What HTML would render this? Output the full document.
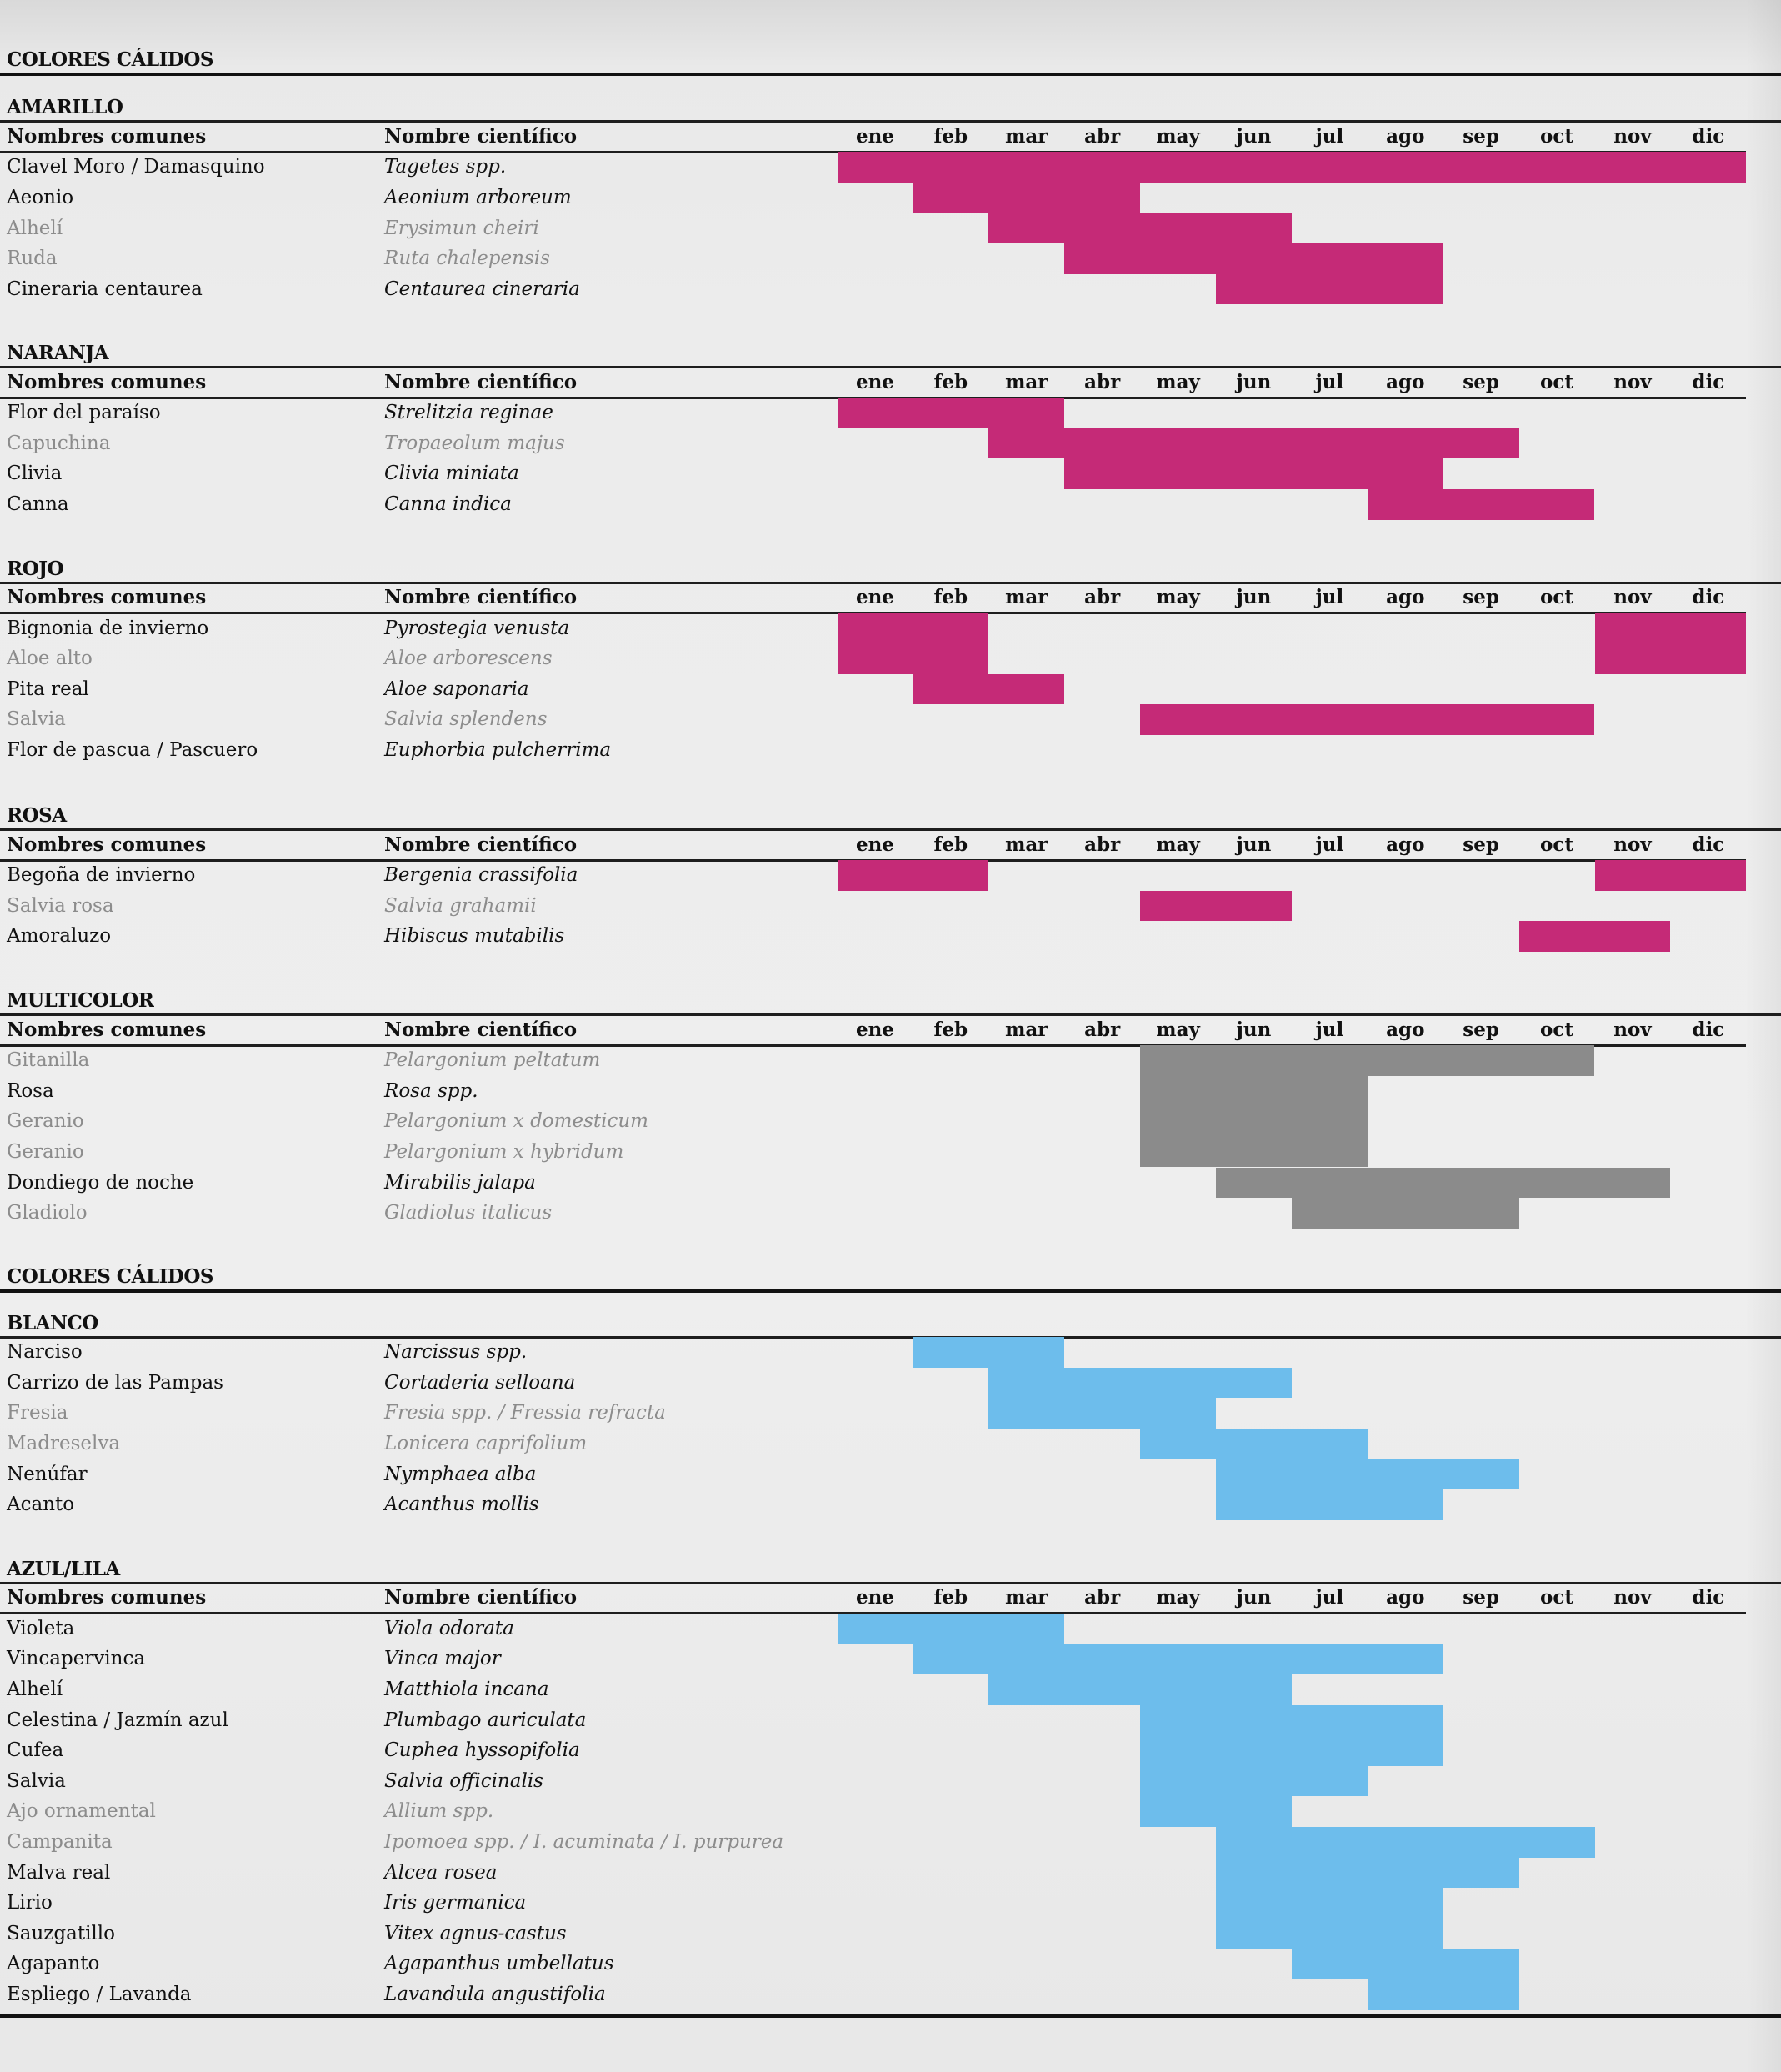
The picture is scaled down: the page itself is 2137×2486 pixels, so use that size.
<!DOCTYPE html>
<html><head><meta charset="utf-8">
<style>
html,body{margin:0;padding:0}
body{width:2137px;height:2486px;position:relative;overflow:hidden;
background:linear-gradient(180deg,#d9d9d9 0px,#e9e9e9 80px,#ececec 400px,#eeeeee 1500px,#e8e8e8 2486px);
font-family:"DejaVu Serif","Liberation Serif",serif;font-size:23px;color:#111}
.edge{position:absolute;left:2095px;top:0;width:42px;height:2486px;background:linear-gradient(90deg,rgba(0,0,0,0),rgba(0,0,0,0.05))}
.sec{position:absolute;left:0;width:2137px;height:0}
.t{position:absolute;left:8px;top:-36.6px;height:36.6px;line-height:40px;font-weight:bold;font-size:23px;letter-spacing:-0.5px}
.sl{position:absolute;left:0;width:2137px;height:3px;top:-1.5px;background:#1e1e1e}
.hl{position:absolute;left:0;width:2095px;height:3px;top:35px;background:#1e1e1e}
.tk{position:absolute;left:0;width:2137px;height:4px;background:#111}
.r{position:absolute;left:0;width:2095px;height:36.6px;line-height:36.6px;top:calc(var(--i)*36.6px);white-space:nowrap}
.r span{position:absolute}
.c{left:8px}.s{left:461px;font-style:italic}
.h{font-weight:bold}
.g{color:#8c8c8c}
.m{width:90.9px;text-align:center;font-weight:bold;left:calc(1004.5px + var(--k)*90.9px)}
.b{position:absolute;height:36.6px;top:calc(var(--i)*36.6px);left:calc(1004.5px + var(--s)*90.9px);width:calc(var(--n)*90.9px)}
.p{background:#c52a77}.gr{background:#8b8b8b}.bl{background:#6dbdec}
</style></head><body>
<div class="edge"></div>

<!-- top title -->
<div class="sec" style="top:88.8px"><div class="t">COLORES CÁLIDOS</div></div>
<div class="tk" style="top:87px"></div>

<!-- AMARILLO -->
<div class="sec" style="top:145.8px">
<div class="t">AMARILLO</div><div class="sl"></div>
<div class="r h" style="--i:0"><span class="c">Nombres comunes</span><span class="s" style="font-style:normal">Nombre científico</span>
<span class="m" style="--k:0">ene</span><span class="m" style="--k:1">feb</span><span class="m" style="--k:2">mar</span><span class="m" style="--k:3">abr</span><span class="m" style="--k:4">may</span><span class="m" style="--k:5">jun</span><span class="m" style="--k:6">jul</span><span class="m" style="--k:7">ago</span><span class="m" style="--k:8">sep</span><span class="m" style="--k:9">oct</span><span class="m" style="--k:10">nov</span><span class="m" style="--k:11">dic</span></div>
<div class="hl"></div>
<div class="b p" style="--i:1;--s:0;--n:12"></div>
<div class="b p" style="--i:2;--s:1;--n:3"></div>
<div class="b p" style="--i:3;--s:2;--n:4"></div>
<div class="b p" style="--i:4;--s:3;--n:5"></div>
<div class="b p" style="--i:5;--s:5;--n:3"></div>
<div class="r" style="--i:1"><span class="c">Clavel Moro / Damasquino</span><span class="s">Tagetes spp.</span></div>
<div class="r" style="--i:2"><span class="c">Aeonio</span><span class="s">Aeonium arboreum</span></div>
<div class="r g" style="--i:3"><span class="c">Alhelí</span><span class="s">Erysimun cheiri</span></div>
<div class="r g" style="--i:4"><span class="c">Ruda</span><span class="s">Ruta chalepensis</span></div>
<div class="r" style="--i:5"><span class="c">Cineraria centaurea</span><span class="s">Centaurea cineraria</span></div>
</div>

<!-- NARANJA -->
<div class="sec" style="top:440.7px">
<div class="t">NARANJA</div><div class="sl"></div>
<div class="r h" style="--i:0"><span class="c">Nombres comunes</span><span class="s" style="font-style:normal">Nombre científico</span>
<span class="m" style="--k:0">ene</span><span class="m" style="--k:1">feb</span><span class="m" style="--k:2">mar</span><span class="m" style="--k:3">abr</span><span class="m" style="--k:4">may</span><span class="m" style="--k:5">jun</span><span class="m" style="--k:6">jul</span><span class="m" style="--k:7">ago</span><span class="m" style="--k:8">sep</span><span class="m" style="--k:9">oct</span><span class="m" style="--k:10">nov</span><span class="m" style="--k:11">dic</span></div>
<div class="hl"></div>
<div class="b p" style="--i:1;--s:0;--n:3"></div>
<div class="b p" style="--i:2;--s:2;--n:7"></div>
<div class="b p" style="--i:3;--s:3;--n:5"></div>
<div class="b p" style="--i:4;--s:7;--n:3"></div>
<div class="r" style="--i:1"><span class="c">Flor del paraíso</span><span class="s">Strelitzia reginae</span></div>
<div class="r g" style="--i:2"><span class="c">Capuchina</span><span class="s">Tropaeolum majus</span></div>
<div class="r" style="--i:3"><span class="c">Clivia</span><span class="s">Clivia miniata</span></div>
<div class="r" style="--i:4"><span class="c">Canna</span><span class="s">Canna indica</span></div>
</div>

<!-- ROJO -->
<div class="sec" style="top:699.1px">
<div class="t">ROJO</div><div class="sl"></div>
<div class="r h" style="--i:0"><span class="c">Nombres comunes</span><span class="s" style="font-style:normal">Nombre científico</span>
<span class="m" style="--k:0">ene</span><span class="m" style="--k:1">feb</span><span class="m" style="--k:2">mar</span><span class="m" style="--k:3">abr</span><span class="m" style="--k:4">may</span><span class="m" style="--k:5">jun</span><span class="m" style="--k:6">jul</span><span class="m" style="--k:7">ago</span><span class="m" style="--k:8">sep</span><span class="m" style="--k:9">oct</span><span class="m" style="--k:10">nov</span><span class="m" style="--k:11">dic</span></div>
<div class="hl"></div>
<div class="b p" style="--i:1;--s:0;--n:2"></div><div class="b p" style="--i:1;--s:10;--n:2"></div>
<div class="b p" style="--i:2;--s:0;--n:2"></div><div class="b p" style="--i:2;--s:10;--n:2"></div>
<div class="b p" style="--i:3;--s:1;--n:2"></div>
<div class="b p" style="--i:4;--s:4;--n:6"></div>
<div class="r" style="--i:1"><span class="c">Bignonia de invierno</span><span class="s">Pyrostegia venusta</span></div>
<div class="r g" style="--i:2"><span class="c">Aloe alto</span><span class="s">Aloe arborescens</span></div>
<div class="r" style="--i:3"><span class="c">Pita real</span><span class="s">Aloe saponaria</span></div>
<div class="r g" style="--i:4"><span class="c">Salvia</span><span class="s">Salvia splendens</span></div>
<div class="r" style="--i:5"><span class="c">Flor de pascua / Pascuero</span><span class="s">Euphorbia pulcherrima</span></div>
</div>

<!-- ROSA -->
<div class="sec" style="top:995.6px">
<div class="t">ROSA</div><div class="sl"></div>
<div class="r h" style="--i:0"><span class="c">Nombres comunes</span><span class="s" style="font-style:normal">Nombre científico</span>
<span class="m" style="--k:0">ene</span><span class="m" style="--k:1">feb</span><span class="m" style="--k:2">mar</span><span class="m" style="--k:3">abr</span><span class="m" style="--k:4">may</span><span class="m" style="--k:5">jun</span><span class="m" style="--k:6">jul</span><span class="m" style="--k:7">ago</span><span class="m" style="--k:8">sep</span><span class="m" style="--k:9">oct</span><span class="m" style="--k:10">nov</span><span class="m" style="--k:11">dic</span></div>
<div class="hl"></div>
<div class="b p" style="--i:1;--s:0;--n:2"></div><div class="b p" style="--i:1;--s:10;--n:2"></div>
<div class="b p" style="--i:2;--s:4;--n:2"></div>
<div class="b p" style="--i:3;--s:9;--n:2"></div>
<div class="r" style="--i:1"><span class="c">Begoña de invierno</span><span class="s">Bergenia crassifolia</span></div>
<div class="r g" style="--i:2"><span class="c">Salvia rosa</span><span class="s">Salvia grahamii</span></div>
<div class="r" style="--i:3"><span class="c">Amoraluzo</span><span class="s">Hibiscus mutabilis</span></div>
</div>

<!-- MULTICOLOR -->
<div class="sec" style="top:1217.5px">
<div class="t">MULTICOLOR</div><div class="sl"></div>
<div class="r h" style="--i:0"><span class="c">Nombres comunes</span><span class="s" style="font-style:normal">Nombre científico</span>
<span class="m" style="--k:0">ene</span><span class="m" style="--k:1">feb</span><span class="m" style="--k:2">mar</span><span class="m" style="--k:3">abr</span><span class="m" style="--k:4">may</span><span class="m" style="--k:5">jun</span><span class="m" style="--k:6">jul</span><span class="m" style="--k:7">ago</span><span class="m" style="--k:8">sep</span><span class="m" style="--k:9">oct</span><span class="m" style="--k:10">nov</span><span class="m" style="--k:11">dic</span></div>
<div class="hl"></div>
<div class="b gr" style="--i:1;--s:4;--n:6"></div>
<div class="b gr" style="--i:2;--s:4;--n:3"></div>
<div class="b gr" style="--i:3;--s:4;--n:3"></div>
<div class="b gr" style="--i:4;--s:4;--n:3"></div>
<div class="b gr" style="--i:5;--s:5;--n:6"></div>
<div class="b gr" style="--i:6;--s:6;--n:3"></div>
<div class="r g" style="--i:1"><span class="c">Gitanilla</span><span class="s">Pelargonium peltatum</span></div>
<div class="r" style="--i:2"><span class="c">Rosa</span><span class="s">Rosa spp.</span></div>
<div class="r g" style="--i:3"><span class="c">Geranio</span><span class="s">Pelargonium x domesticum</span></div>
<div class="r g" style="--i:4"><span class="c">Geranio</span><span class="s">Pelargonium x hybridum</span></div>
<div class="r" style="--i:5"><span class="c">Dondiego de noche</span><span class="s">Mirabilis jalapa</span></div>
<div class="r g" style="--i:6"><span class="c">Gladiolo</span><span class="s">Gladiolus italicus</span></div>
</div>

<!-- second title -->
<div class="sec" style="top:1548.8px"><div class="t">COLORES CÁLIDOS</div></div>
<div class="tk" style="top:1547px"></div>

<!-- BLANCO -->
<div class="sec" style="top:1604.3px">
<div class="t">BLANCO</div><div class="sl"></div>
<div class="b bl" style="--i:0;--s:1;--n:2"></div>
<div class="b bl" style="--i:1;--s:2;--n:4"></div>
<div class="b bl" style="--i:2;--s:2;--n:3"></div>
<div class="b bl" style="--i:3;--s:4;--n:3"></div>
<div class="b bl" style="--i:4;--s:5;--n:4"></div>
<div class="b bl" style="--i:5;--s:5;--n:3"></div>
<div class="r" style="--i:0"><span class="c">Narciso</span><span class="s">Narcissus spp.</span></div>
<div class="r" style="--i:1"><span class="c">Carrizo de las Pampas</span><span class="s">Cortaderia selloana</span></div>
<div class="r g" style="--i:2"><span class="c">Fresia</span><span class="s">Fresia spp. / Fressia refracta</span></div>
<div class="r g" style="--i:3"><span class="c">Madreselva</span><span class="s">Lonicera caprifolium</span></div>
<div class="r" style="--i:4"><span class="c">Nenúfar</span><span class="s">Nymphaea alba</span></div>
<div class="r" style="--i:5"><span class="c">Acanto</span><span class="s">Acanthus mollis</span></div>
</div>

<!-- AZUL/LILA -->
<div class="sec" style="top:1899.2px">
<div class="t">AZUL/LILA</div><div class="sl"></div>
<div class="r h" style="--i:0"><span class="c">Nombres comunes</span><span class="s" style="font-style:normal">Nombre científico</span>
<span class="m" style="--k:0">ene</span><span class="m" style="--k:1">feb</span><span class="m" style="--k:2">mar</span><span class="m" style="--k:3">abr</span><span class="m" style="--k:4">may</span><span class="m" style="--k:5">jun</span><span class="m" style="--k:6">jul</span><span class="m" style="--k:7">ago</span><span class="m" style="--k:8">sep</span><span class="m" style="--k:9">oct</span><span class="m" style="--k:10">nov</span><span class="m" style="--k:11">dic</span></div>
<div class="hl"></div>
<div class="b bl" style="--i:1;--s:0;--n:3"></div>
<div class="b bl" style="--i:2;--s:1;--n:7"></div>
<div class="b bl" style="--i:3;--s:2;--n:4"></div>
<div class="b bl" style="--i:4;--s:4;--n:4"></div>
<div class="b bl" style="--i:5;--s:4;--n:4"></div>
<div class="b bl" style="--i:6;--s:4;--n:3"></div>
<div class="b bl" style="--i:7;--s:4;--n:2"></div>
<div class="b bl" style="--i:8;--s:5;--n:5"></div>
<div class="b bl" style="--i:9;--s:5;--n:4"></div>
<div class="b bl" style="--i:10;--s:5;--n:3"></div>
<div class="b bl" style="--i:11;--s:5;--n:3"></div>
<div class="b bl" style="--i:12;--s:6;--n:3"></div>
<div class="b bl" style="--i:13;--s:7;--n:2"></div>
<div class="r" style="--i:1"><span class="c">Violeta</span><span class="s">Viola odorata</span></div>
<div class="r" style="--i:2"><span class="c">Vincapervinca</span><span class="s">Vinca major</span></div>
<div class="r" style="--i:3"><span class="c">Alhelí</span><span class="s">Matthiola incana</span></div>
<div class="r" style="--i:4"><span class="c">Celestina / Jazmín azul</span><span class="s">Plumbago auriculata</span></div>
<div class="r" style="--i:5"><span class="c">Cufea</span><span class="s">Cuphea hyssopifolia</span></div>
<div class="r" style="--i:6"><span class="c">Salvia</span><span class="s">Salvia officinalis</span></div>
<div class="r g" style="--i:7"><span class="c">Ajo ornamental</span><span class="s">Allium spp.</span></div>
<div class="r g" style="--i:8"><span class="c">Campanita</span><span class="s">Ipomoea spp. / I. acuminata / I. purpurea</span></div>
<div class="r" style="--i:9"><span class="c">Malva real</span><span class="s">Alcea rosea</span></div>
<div class="r" style="--i:10"><span class="c">Lirio</span><span class="s">Iris germanica</span></div>
<div class="r" style="--i:11"><span class="c">Sauzgatillo</span><span class="s">Vitex agnus-castus</span></div>
<div class="r" style="--i:12"><span class="c">Agapanto</span><span class="s">Agapanthus umbellatus</span></div>
<div class="r" style="--i:13"><span class="c">Espliego / Lavanda</span><span class="s">Lavandula angustifolia</span></div>
</div>
<div class="tk" style="top:2417px"></div>
</body></html>
